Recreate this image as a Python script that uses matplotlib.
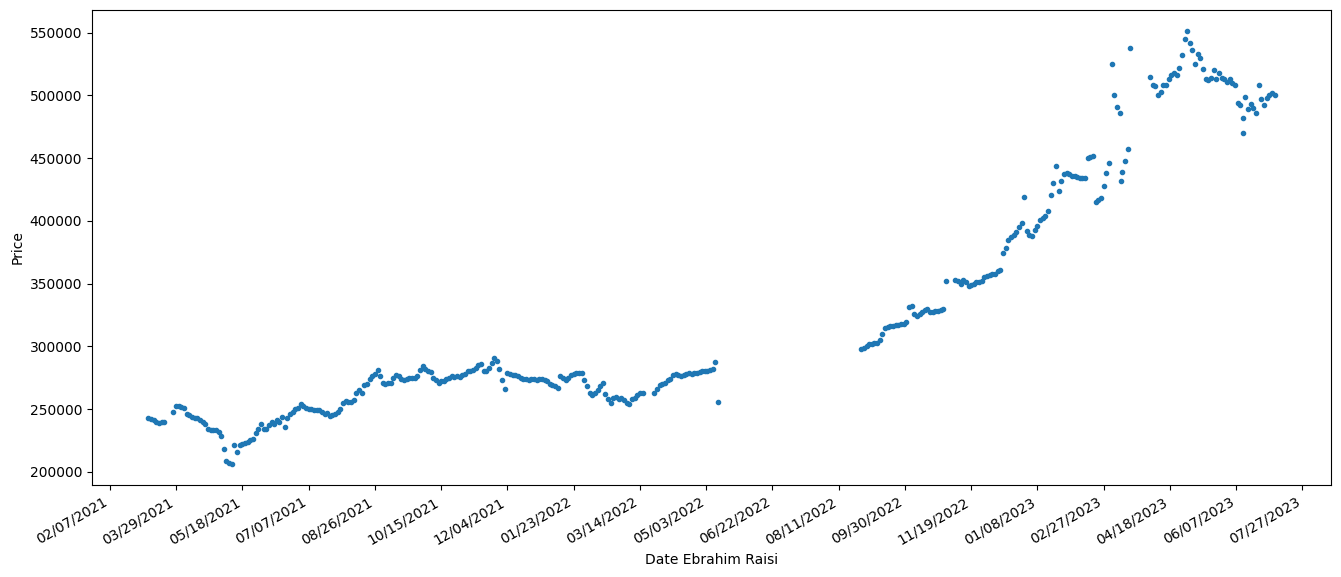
import matplotlib
matplotlib.use('Agg')
import matplotlib.pyplot as plt
import matplotlib.dates as mdates
import numpy as np
import pandas as pd

# prices read off every 2 days, one list per stretch without a gap
start_mar21 = '2021-03-08'
prices_mar21 = [242500, 242000, 241000, 240000, 239000, 240000, 240000]

start_main = '2021-03-27'
prices_main = [
    248000, 252500, 252500, 252000, 251000, 246000, 245000, 244000, 243000, 242500,
    241000, 240000, 238000, 234000, 233500, 233000, 233000, 232000, 228500, 218000,
    209000, 207000, 206500, 221000, 215500, 221000, 222000, 223000, 224000, 225000,
    226000, 231000, 234000, 238000, 234000, 234500, 237000, 240000, 238000, 241000,
    240000, 244000, 236000, 243000, 246000, 248000, 250000, 251000, 254000, 252500,
    251000, 250000, 250000, 249500, 249000, 249500, 247500, 246000, 246500, 244500,
    245000, 246000, 248000, 250000, 255000, 256500, 256000, 256000, 257500, 263000,
    265000, 263000, 269000, 270000, 274000, 276000, 278000, 281000, 276000, 271000,
    270000, 271000, 270500, 275000, 277000, 276000, 274000, 273500, 274000, 274500,
    275000, 275000, 276500, 281000, 284000, 282000, 280000, 279500, 275000, 273000,
    271000, 272000, 272500, 274000, 275000, 276000, 275500, 276000, 275500, 277000,
    278000, 280000, 280500, 281000, 283000, 285000, 286000, 280000, 280500, 283000,
    287000, 291000, 288000, 282000, 273000, 266000, 279000, 278000, 277500, 277000,
    276000, 275000, 274000, 274000, 273500, 274000, 274000, 273500, 274000, 274000,
    273500, 272000, 270000, 269500, 268000, 267000, 276000, 275000, 273500, 274500,
    277000, 278000, 279000, 278500, 279000, 273000, 268000, 263000, 261000, 263000,
    265000, 268000, 271000, 262000, 258000, 254500, 259000, 260000, 258000, 259000,
    257000, 255000, 254000, 258000, 258500, 261000, 263000, 262500,
]

start_spring22 = '2022-03-25'
prices_spring22 = [
    263000, 266000, 269000, 270000, 271000, 273000, 274000, 277000, 278000, 277500,
    276500, 277000, 278000, 278500, 278000, 279000, 279000, 279500, 280000, 280000,
    280500, 281000, 282000, 287500, 255500,
]

start_autumn22 = '2022-08-28'
prices_autumn22 = [
    298000, 299000, 300500, 302000, 302000, 302500, 303000, 305000, 310000, 315000,
    315500, 316000, 316500, 317000, 317000, 317500, 318000, 319000, 331000, 332000,
    326000, 324000, 326000, 327000, 329000, 330000, 327000, 327500, 328000, 328500,
    329000, 330000,
]

start_winter22 = '2022-11-07'
prices_winter22 = [
    353000, 352000, 350000, 353000, 351000, 348000, 349000, 350000, 351000, 351500,
    352000, 355000, 356000, 356500, 357500, 358000, 360000, 361000, 374000, 378000,
    385000, 387000, 389000, 391000, 395000, 398000, 419000, 392000, 389000, 388000,
    393000, 396000, 401000, 402000, 404000, 408000, 421000, 430000, 444000, 424000,
    432000, 437000, 438000, 437000, 436000, 435500, 435000, 434000, 434000, 434000,
    450000, 451000, 452000, 415000, 417000, 418000, 428000, 438000, 446000, 525000,
    500000, 491000, 486000, 439000, 448000, 457000, 538000,
]

start_spring23 = '2023-04-03'
prices_spring23 = [
    515000, 508000, 507500, 500000, 503000, 508000, 508000, 513000, 516000, 518000,
    516500, 522000, 532000, 545000, 551000, 542000, 536000, 525000, 533000, 530000,
    521000, 513000, 512000, 514000, 520000, 513000, 518000, 514000, 513000, 511000,
    513000, 510000, 508000, 494000, 492000, 470000, 499000, 489000, 493000, 490000,
    486000, 508500, 497000, 492000, 498000, 500000, 502000, 500000,
]

# single points that fall between the regular readings
extra_dates = ['2022-10-31', '2023-03-12', '2023-06-12']
extra_prices = [352000, 432000, 482000]

tick_dates = pd.date_range('2021-02-07', '2023-07-27', freq='50D')

segments = [(start_mar21, prices_mar21), (start_main, prices_main),
            (start_spring22, prices_spring22), (start_autumn22, prices_autumn22),
            (start_winter22, prices_winter22), (start_spring23, prices_spring23)]

parts = [pd.Series(vals, index=pd.date_range(start, periods=len(vals), freq='2D'))
         for start, vals in segments]
parts.append(pd.Series(extra_prices, index=pd.to_datetime(extra_dates)))
price = pd.concat(parts).sort_index()

fig, ax = plt.subplots(figsize=(13.41, 5.77), dpi=100)
ax.plot(price.index, price.values, '.', color='#1f77b4')

ax.set_xticks(tick_dates)
ax.xaxis.set_major_formatter(mdates.DateFormatter('%m/%d/%Y'))
plt.setp(ax.get_xticklabels(), rotation=30, ha='right')

ax.set_xlabel('Date Ebrahim Raisi')
ax.set_ylabel('Price')

fig.subplots_adjust(left=0.0686, right=0.9925, top=0.983, bottom=0.159)
fig.savefig('out.png', dpi=100)
plt.close(fig)
